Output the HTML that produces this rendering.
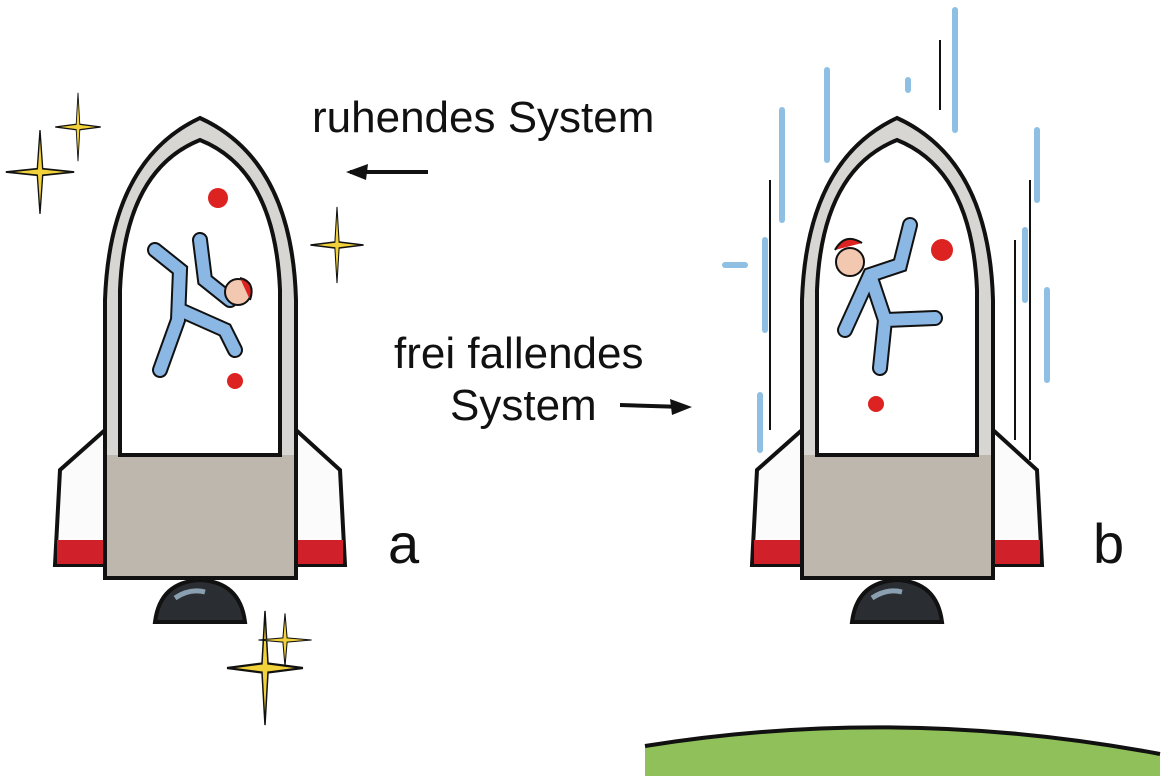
<!DOCTYPE html>
<html><head><meta charset="utf-8"><style>
html,body{margin:0;padding:0;background:#fff;width:1165px;height:776px;overflow:hidden}
svg{display:block}
text{font-family:"Liberation Sans",sans-serif;fill:#111}
</style></head><body>
<svg width="1165" height="776" viewBox="0 0 1165 776" xmlns="http://www.w3.org/2000/svg">
<defs>
<g id="rocket">
  <!-- fins -->
  <path d="M105,430 L60,470 L55,565 L105,565 Z" fill="#fbfbfb" stroke="#111" stroke-width="4"/>
  <rect x="57" y="540" width="48" height="24" fill="#d0202a"/>
  <path d="M296,430 L340,470 L345,565 L296,565 Z" fill="#fbfbfb" stroke="#111" stroke-width="4"/>
  <rect x="296" y="540" width="47" height="24" fill="#d0202a"/>
  <!-- nozzle -->
  <path d="M155,622 Q160,582 200,580 Q240,582 245,622 Z" fill="#2a2e33" stroke="#111" stroke-width="4"/>
  <path d="M175,598 Q190,588 205,592" stroke="#8aa0b0" stroke-width="5" fill="none"/>
  <!-- body -->
  <path d="M105,578 L105,300 Q110,160 200,118 Q292,160 296,300 L296,578 Z" fill="#d8d6d2" stroke="#111" stroke-width="4"/>
  <rect x="107" y="455" width="187" height="121" fill="#bdb7ae"/>
  <!-- window -->
  <path d="M120,455 L120,290 Q125,170 200,140 Q275,170 280,290 L280,455 Z" fill="#fff" stroke="#111" stroke-width="4"/>
</g>
<g id="spark">
  <path d="M0,-38 L3,-3 L38,0 L3,3 L0,38 L-3,3 L-38,0 L-3,-3 Z" fill="#f2d23a" stroke="#111" stroke-width="1.5"/>
</g>
</defs>

<use href="#rocket"/>
<use href="#rocket" x="697"/>

<!-- stars -->
<use href="#spark" transform="translate(40,172) scale(0.9,1.1)"/>
<use href="#spark" transform="translate(78,127) scale(0.6,0.9)"/>
<use href="#spark" transform="translate(337,245) scale(0.7,1.0)"/>
<use href="#spark" transform="translate(265,668) scale(1.0,1.5)"/>
<use href="#spark" transform="translate(285,640) scale(0.7,0.7)"/>

<!-- astronaut a -->
<circle cx="218" cy="198" r="10" fill="#d22"/>
<circle cx="235" cy="381" r="8" fill="#d22"/>
<path d="M155,250 L180,270 L178,320 L160,370 M200,240 L205,280 L230,300 M180,310 L225,330 L235,350" stroke="#111" stroke-width="16" fill="none" stroke-linecap="round"/>
<path d="M155,250 L180,270 L178,320 L160,370 M200,240 L205,280 L230,300 M180,310 L225,330 L235,350" stroke="#8ab7e3" stroke-width="12" fill="none" stroke-linecap="round"/>
<circle cx="238" cy="292" r="13" fill="#f3c8b0" stroke="#111" stroke-width="2"/>
<path d="M240,278 Q256,282 250,300" fill="#d22" stroke="#111" stroke-width="2"/>

<!-- astronaut b -->
<circle cx="942" cy="250" r="11" fill="#d22"/>
<circle cx="876" cy="404" r="8" fill="#d22"/>
<path d="M910,225 L900,265 L870,275 L845,330 M870,275 L885,320 L880,368 M885,320 L935,318" stroke="#111" stroke-width="16" fill="none" stroke-linecap="round"/>
<path d="M910,225 L900,265 L870,275 L845,330 M870,275 L885,320 L880,368 M885,320 L935,318" stroke="#8ab7e3" stroke-width="12" fill="none" stroke-linecap="round"/>
<circle cx="850" cy="262" r="14" fill="#f3c8b0" stroke="#111" stroke-width="2"/>
<path d="M835,250 Q845,232 862,243" fill="#d22" stroke="#111" stroke-width="2"/>

<!-- motion streaks -->
<g stroke="#8fc0e3" stroke-width="6" stroke-linecap="round">
  <line x1="955" y1="10" x2="955" y2="130"/>
  <line x1="827" y1="70" x2="827" y2="160"/>
  <line x1="782" y1="110" x2="782" y2="220"/>
  <line x1="1037" y1="130" x2="1037" y2="200"/>
  <line x1="1047" y1="290" x2="1047" y2="380"/>
  <line x1="1025" y1="230" x2="1025" y2="300"/>
  <line x1="765" y1="240" x2="765" y2="330"/>
  <line x1="725" y1="265" x2="745" y2="265"/>
  <line x1="760" y1="395" x2="760" y2="450"/>
  <line x1="908" y1="80" x2="908" y2="90"/>
</g>
<g stroke="#111" stroke-width="2">
  <line x1="940" y1="40" x2="940" y2="110"/>
  <line x1="1030" y1="180" x2="1030" y2="460"/>
  <line x1="770" y1="180" x2="770" y2="430"/>
  <line x1="1015" y1="240" x2="1015" y2="440"/>
</g>

<!-- texts -->
<text x="312" y="132" font-size="44">ruhendes System</text>
<path d="M350,172 L428,172" stroke="#111" stroke-width="4"/>
<path d="M346,172 L368,164 L366,180 Z" fill="#111"/>
<text x="394" y="368" font-size="44">frei fallendes</text>
<text x="450" y="420" font-size="44">System</text>
<path d="M620,405 L684,407" stroke="#111" stroke-width="4"/>
<path d="M692,407 L670,399 L672,415 Z" fill="#111"/>
<text x="388" y="563" font-size="56">a</text>
<text x="1093" y="563" font-size="56">b</text>

<!-- ground -->
<path d="M645,746 Q900,705 1160,754 L1160,776 L645,776 Z" fill="#8fc05a"/>
<path d="M645,746 Q900,705 1160,754" stroke="#111" stroke-width="4" fill="none"/>
</svg>
</body></html>
